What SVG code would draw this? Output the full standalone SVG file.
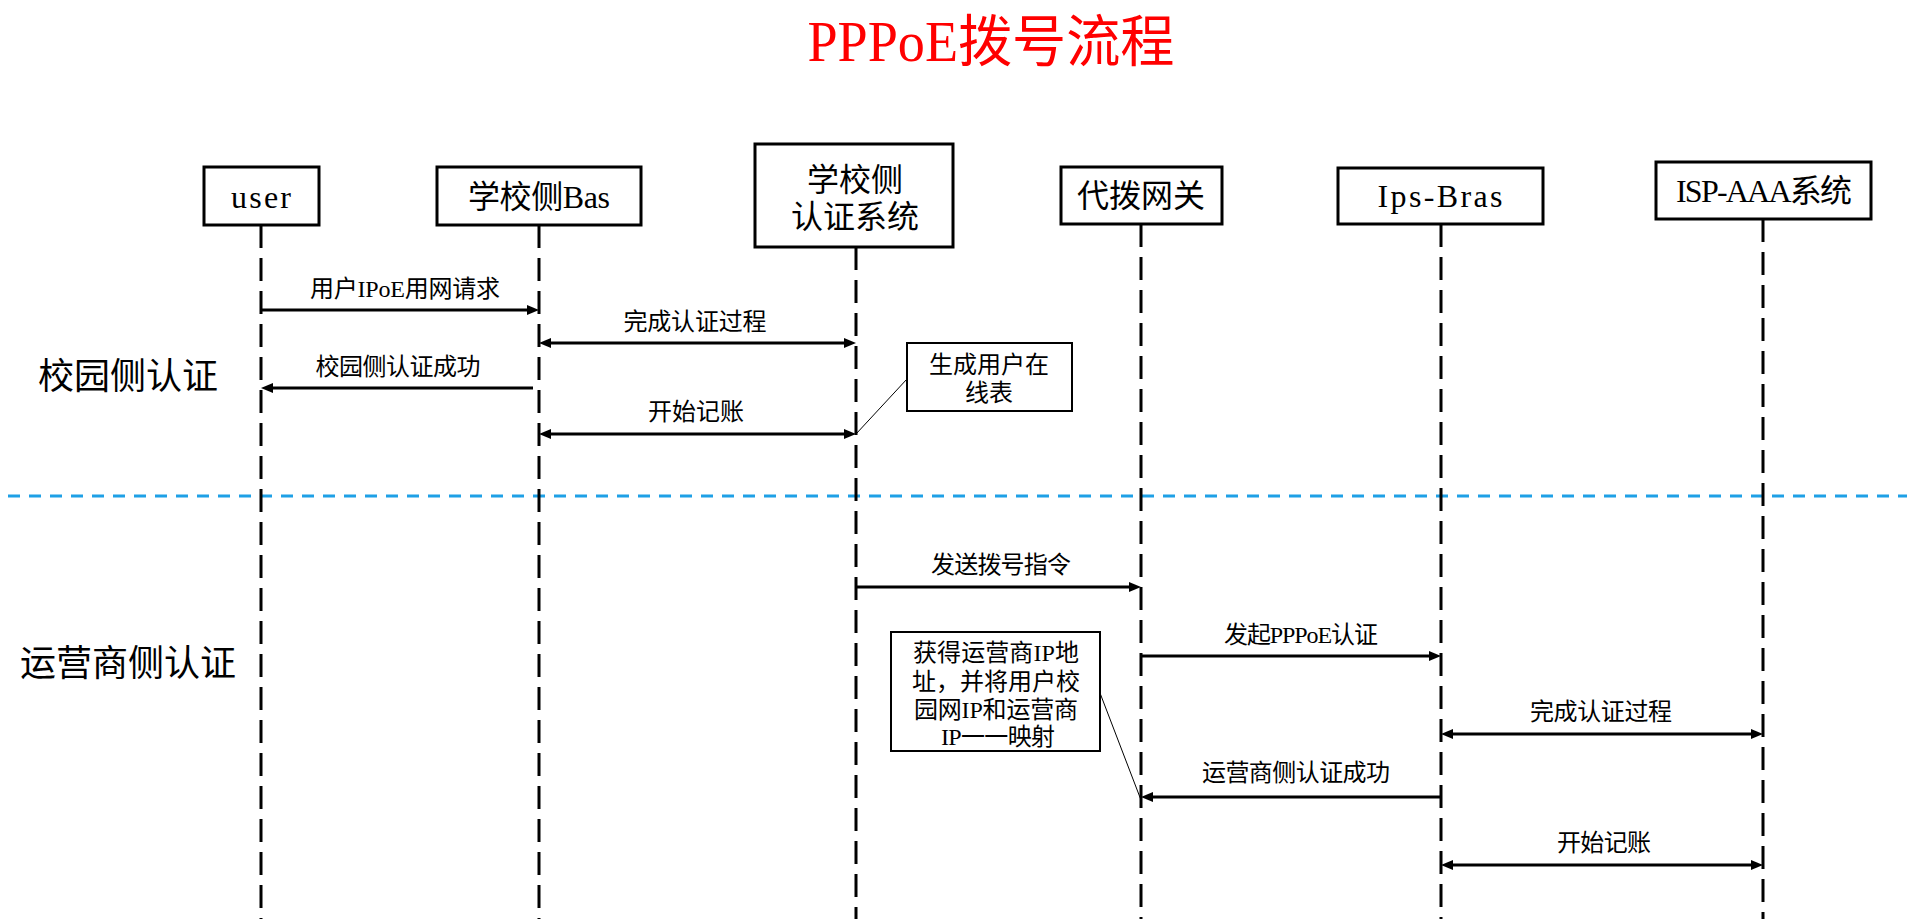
<svg xmlns="http://www.w3.org/2000/svg" width="1907" height="919" viewBox="0 0 1907 919">
<style>
text{font-family:'Liberation Serif','Noto Sans CJK SC',serif;fill:#000;text-anchor:middle;dominant-baseline:central}
.title{font-size:56px;fill:#ff0000}
.node rect{fill:#fff;stroke:#000;stroke-width:3}
.node text{font-size:32px}
.note rect{fill:#fff;stroke:#000;stroke-width:2}
.note text{font-size:24px}
.life{stroke:#000;stroke-width:3;stroke-dasharray:23 10;fill:none}
.msg{stroke:#000;stroke-width:3;fill:none}
.lbl{font-size:24px}
.side{font-family:'Noto Sans CJK SC',sans-serif;font-size:36px}
.sep{stroke:#1ea0e6;stroke-width:3;stroke-dasharray:12 9}
.lead{stroke:#000;stroke-width:1;fill:none}
</style>
<defs>
<marker id="ah" viewBox="0 0 12 12" refX="6" refY="6" markerWidth="12" markerHeight="12" markerUnits="userSpaceOnUse" orient="auto-start-reverse">
<path d="M0,1 L12,6 L0,11 z" fill="#000"/>
</marker>
</defs>
<rect width="1907" height="919" fill="#fff"/>
<text class="title" x="991" y="42" textLength="367" lengthAdjust="spacingAndGlyphs">PPPoE拨号流程</text>

<text class="side" x="128" y="373">校园侧认证</text>
<text class="side" x="128" y="660">运营商侧认证</text>
<line class="sep" x1="8" y1="496" x2="1907" y2="496"/>

<g id="lifelines">
<line class="life" x1="261" y1="225" x2="261" y2="919"/>
<line class="life" x1="539" y1="225" x2="539" y2="919"/>
<line class="life" x1="856" y1="247" x2="856" y2="919"/>
<line class="life" x1="1141" y1="224" x2="1141" y2="919"/>
<line class="life" x1="1441" y1="224" x2="1441" y2="919"/>
<line class="life" x1="1763" y1="219" x2="1763" y2="919"/>
</g>

<g id="n-user" class="node"><rect x="204" y="167" width="115" height="58"/><text x="261" y="197" textLength="60">user</text></g>
<g id="n-bas" class="node"><rect x="437" y="167" width="204" height="58"/><text x="539" y="197" textLength="142">学校侧Bas</text></g>
<g id="n-auth" class="node"><rect x="755" y="144" width="198" height="103"/><text x="855" y="180">学校侧</text><text x="855" y="217">认证系统</text></g>
<g id="n-gw" class="node"><rect x="1061" y="167" width="161" height="57"/><text x="1141" y="196">代拨网关</text></g>
<g id="n-bras" class="node"><rect x="1338" y="168" width="205" height="56"/><text x="1440" y="196" textLength="125">Ips-Bras</text></g>
<g id="n-aaa" class="node"><rect x="1656" y="162" width="215" height="57"/><text x="1764" y="191" textLength="176">ISP-AAA系统</text></g>

<g id="note1" class="note"><rect x="907" y="343" width="165" height="68"/><text x="989" y="365">生成用户在</text><text x="989" y="393">线表</text></g>
<g id="note2" class="note"><rect x="891" y="632" width="209" height="119"/>
<text x="996" y="653" textLength="166">获得运营商IP地</text>
<text x="996" y="682">址，并将用户校</text>
<text x="996" y="710" textLength="164">园网IP和运营商</text>
<text x="998" y="737" textLength="114">IP一一映射</text></g>

<g id="connectors">
<line class="lead" x1="856" y1="434" x2="907" y2="379"/>
<line class="lead" x1="1100" y1="693" x2="1141" y2="800"/>
<line class="msg" x1="261" y1="310" x2="533" y2="310" marker-end="url(#ah)"/>
<line class="msg" x1="545" y1="343" x2="850" y2="343" marker-start="url(#ah)" marker-end="url(#ah)"/>
<line class="msg" x1="533" y1="388" x2="267" y2="388" marker-end="url(#ah)"/>
<line class="msg" x1="545" y1="434" x2="850" y2="434" marker-start="url(#ah)" marker-end="url(#ah)"/>
<line class="msg" x1="856" y1="587" x2="1135" y2="587" marker-end="url(#ah)"/>
<line class="msg" x1="1141" y1="656" x2="1435" y2="656" marker-end="url(#ah)"/>
<line class="msg" x1="1447" y1="734" x2="1757" y2="734" marker-start="url(#ah)" marker-end="url(#ah)"/>
<line class="msg" x1="1441" y1="797" x2="1147" y2="797" marker-end="url(#ah)"/>
<line class="msg" x1="1447" y1="865" x2="1757" y2="865" marker-start="url(#ah)" marker-end="url(#ah)"/>
<text class="lbl" x="405" y="289" textLength="190">用户IPoE用网请求</text>
<text class="lbl" x="695" y="322" textLength="143">完成认证过程</text>
<text class="lbl" x="398" y="367" textLength="165">校园侧认证成功</text>
<text class="lbl" x="696" y="412" textLength="96">开始记账</text>
<text class="lbl" x="1001" y="565" textLength="140">发送拨号指令</text>
<text class="lbl" x="1301" y="635" textLength="154">发起PPPoE认证</text>
<text class="lbl" x="1601" y="712" textLength="142">完成认证过程</text>
<text class="lbl" x="1296" y="773" textLength="188">运营商侧认证成功</text>
<text class="lbl" x="1604" y="843" textLength="94">开始记账</text>
</g>
</svg>
